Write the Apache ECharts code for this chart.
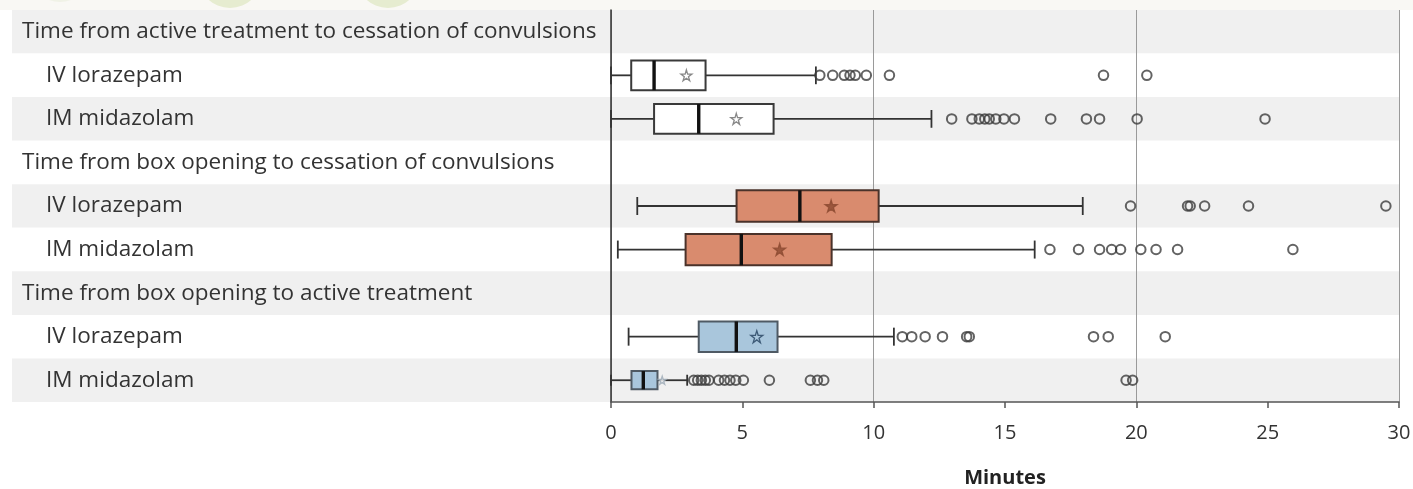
<!DOCTYPE html>
<html>
<head>
<meta charset="utf-8">
<script src="https://cdn.jsdelivr.net/npm/echarts@6/dist/echarts.min.js"></script>
<style>
  html, body { margin: 0; padding: 0; background: #ffffff; }
  #chart { width: 1413px; height: 489px; }
</style>
</head>
<body>
<div id="chart"></div>
<script>
// ---------- DATA ----------
const rowLabels = [
  'Time from active treatment to cessation of convulsions',
  'IV lorazepam',
  'IM midazolam',
  'Time from box opening to cessation of convulsions',
  'IV lorazepam',
  'IM midazolam',
  'Time from box opening to active treatment',
  'IV lorazepam',
  'IM midazolam'
];
const headerRows = [0, 3, 6];
const boxRows = [1, 2, 4, 5, 7, 8];
const whiskerLow  = [0,    0,    1.0,  0.26, 0.67, 0];
const quart1      = [0.77, 1.64, 4.78, 2.84, 3.34, 0.78];
const medians     = [1.64, 3.34, 7.19, 4.96, 4.77, 1.23];
const quart3      = [3.6,  6.19, 10.19, 8.4, 6.34, 1.77];
const whiskerHigh = [7.8,  12.2, 17.96, 16.13, 10.77, 2.9];
const means       = [2.87, 4.77, 8.38, 6.42, 5.55, 1.95];
const outliers = [
  [7.95, 8.44, 8.88, 9.1, 9.3, 9.72, 10.6, 18.75, 20.4],
  [12.97, 13.74, 14.02, 14.23, 14.4, 14.65, 14.96, 15.36, 16.74, 18.1, 18.6, 20.03, 24.9],
  [19.78, 21.95, 22.05, 22.6, 24.27, 29.5],
  [16.71, 17.8, 18.6, 19.06, 19.4, 20.17, 20.75, 21.57, 25.96],
  [11.09, 11.45, 11.96, 12.62, 13.54, 13.64, 18.37, 18.93, 21.1],
  [3.15, 3.3, 3.44, 3.59, 3.73, 4.1, 4.32, 4.53, 4.75, 5.04, 6.03, 7.59, 7.86, 8.1, 19.61, 19.86]
];
const xTicks = [0, 5, 10, 15, 20, 25, 30];
const axisName = 'Minutes';

// ---------- STYLES ----------
const boxStyles = [
  { fill: '#ffffff', stroke: '#3a3a3a', star: '#ffffff', starStroke: '#6a6a6a', starSize: 11, hFrac: 0.68 },
  { fill: '#ffffff', stroke: '#3a3a3a', star: '#ffffff', starStroke: '#6a6a6a', starSize: 11, hFrac: 0.68 },
  { fill: '#d98b6e', stroke: '#4a322a', star: '#8c4a31', starStroke: '#8c4a31', starSize: 12, hFrac: 0.72 },
  { fill: '#d98b6e', stroke: '#4a322a', star: '#8c4a31', starStroke: '#8c4a31', starSize: 12, hFrac: 0.72 },
  { fill: '#a9c6dc', stroke: '#4f5a64', star: '#a9c6dc', starStroke: '#23405e', starSize: 12, hFrac: 0.70 },
  { fill: '#a9c6dc', stroke: '#4f5a64', star: '#ffffff', starStroke: '#9aa8b4', starSize: 8, hFrac: 0.42 }
];
const FONT = 'Open Sans';
const STAR = 'path://M50,0 L61,35 L98,35 L68,57 L79,91 L50,70 L21,91 L32,57 L2,35 L39,35 Z';

// ---------- BUILD ----------
const boxData = boxRows.map((r, i) => [r, whiskerLow[i], quart1[i], medians[i], quart3[i], whiskerHigh[i], i]);
const meanData = boxRows.map((r, i) => ({
  value: [means[i], r],
  symbolSize: boxStyles[i].starSize,
  itemStyle: { color: boxStyles[i].star, borderColor: boxStyles[i].starStroke, borderWidth: 1.3 }
}));
const outlierData = [];
boxRows.forEach((r, i) => outliers[i].forEach(v => outlierData.push([v, r])));

function renderBox(params, api) {
  const row = api.value(0);
  const idx = api.value(6);
  const st = boxStyles[idx];
  const band = api.size([0, 1])[1];
  const h = band * st.hFrac;
  const capH = Math.min(h * 0.6, 18);
  const pLo = api.coord([api.value(1), row]);
  const pQ1 = api.coord([api.value(2), row]);
  const pMd = api.coord([api.value(3), row]);
  const pQ3 = api.coord([api.value(4), row]);
  const pHi = api.coord([api.value(5), row]);
  const y = pMd[1];
  const lineStyle = { stroke: '#333333', lineWidth: 1.8 };
  return {
    type: 'group',
    children: [
      { type: 'line', shape: { x1: pLo[0], y1: y, x2: pQ1[0], y2: y }, style: lineStyle },
      { type: 'line', shape: { x1: pQ3[0], y1: y, x2: pHi[0], y2: y }, style: lineStyle },
      { type: 'line', shape: { x1: pLo[0], y1: y - capH / 2, x2: pLo[0], y2: y + capH / 2 }, style: lineStyle },
      { type: 'line', shape: { x1: pHi[0], y1: y - capH / 2, x2: pHi[0], y2: y + capH / 2 }, style: lineStyle },
      { type: 'rect', shape: { x: pQ1[0], y: y - h / 2, width: pQ3[0] - pQ1[0], height: h },
        style: { fill: st.fill, stroke: st.stroke, lineWidth: 2 } },
      { type: 'line', shape: { x1: pMd[0], y1: y - h / 2, x2: pMd[0], y2: y + h / 2 },
        style: { stroke: '#111111', lineWidth: 3.4 } }
    ]
  };
}

const chart = echarts.init(document.getElementById('chart'), null, { renderer: 'canvas' });
const bandColors = ['#f0f0f0', '#ffffff'];

const option = {
  animation: false,
  backgroundColor: '#ffffff',
  textStyle: { fontFamily: FONT },
  graphic: [
    { type: 'rect', z: -10, shape: { x: 0, y: 0, width: 1413, height: 10 }, style: { fill: '#f9f8f4' } },
    { type: 'circle', z: -9, shape: { cx: 230, cy: -24, r: 32 }, style: { fill: '#e6ecd0' } },
    { type: 'circle', z: -9, shape: { cx: 388, cy: -24, r: 32 }, style: { fill: '#e6ecd0' } },
    { type: 'circle', z: -9, shape: { cx: 60, cy: -28, r: 30 }, style: { fill: '#f0f2e6' } }
  ],
  grid: [
    { left: 12, top: 10, width: 599, bottom: 87, containLabel: false, outerBoundsMode: 'none' },
    { left: 611, top: 10, right: 14, bottom: 87, containLabel: false, outerBoundsMode: 'none' }
  ],
  xAxis: [
    { gridIndex: 0, type: 'value', min: 0, max: 1, show: false },
    {
      gridIndex: 1, type: 'value', min: xTicks[0], max: xTicks[xTicks.length - 1], interval: 5,
      name: axisName, nameLocation: 'middle', nameGap: 66,
      nameTextStyle: { fontFamily: FONT, fontWeight: 'bold', fontSize: 20, color: '#222' },
      axisLine: { show: true, lineStyle: { color: '#555555', width: 1.5 } },
      axisTick: { show: true, length: 6, lineStyle: { color: '#555555', width: 1.5 } },
      axisLabel: { fontFamily: FONT, fontSize: 20, color: '#333333', margin: 21 },
      splitLine: { show: false }
    },
    {
      gridIndex: 1, type: 'value', min: 0, max: 30, interval: 10, position: 'bottom',
      axisLine: { show: false }, axisTick: { show: false }, axisLabel: { show: false },
      splitLine: { show: true, lineStyle: { color: '#9a9a9a', width: 1 } }
    }
  ],
  yAxis: [
    {
      gridIndex: 0, type: 'category', inverse: true, data: rowLabels,
      axisLine: { show: false }, axisTick: { show: false },
      splitArea: { show: true, areaStyle: { color: bandColors } },
      axisLabel: {
        inside: true, margin: 10, interval: 0, align: 'left',
        formatter: (val, i) => headerRows.includes(i) ? '{h|' + val + '}' : '{s|' + val + '}',
        rich: {
          h: { fontFamily: FONT, fontSize: 22.5, color: '#333333' },
          s: { fontFamily: FONT, fontSize: 22.5, color: '#333333', padding: [0, 0, 0, 24] }
        }
      }
    },
    {
      gridIndex: 1, type: 'category', inverse: true, data: rowLabels,
      axisLine: { show: true, lineStyle: { color: '#333333', width: 1.5 } },
      axisTick: { show: false }, axisLabel: { show: false },
      splitArea: { show: true, areaStyle: { color: bandColors } }
    }
  ],
  series: [
    {
      type: 'custom', name: 'boxes', xAxisIndex: 1, yAxisIndex: 1,
      renderItem: renderBox, data: boxData,
      encode: { x: [1, 2, 3, 4, 5], y: 0 }, z: 3
    },
    {
      type: 'scatter', name: 'means', xAxisIndex: 1, yAxisIndex: 1,
      symbol: STAR, data: meanData, z: 5
    },
    {
      type: 'scatter', name: 'outliers', xAxisIndex: 1, yAxisIndex: 1,
      symbol: 'circle', symbolSize: 9.5, data: outlierData, z: 4,
      itemStyle: { color: 'rgba(255,255,255,0)', borderColor: '#3c3c3c', borderWidth: 2 }
    }
  ]
};
chart.setOption(option);
</script>
</body>
</html>
